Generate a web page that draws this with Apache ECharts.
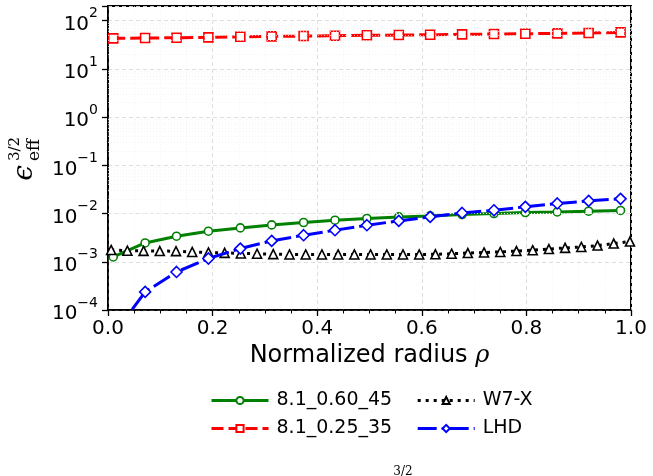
<!DOCTYPE html>
<html>
<head>
<meta charset="utf-8">
<script src="https://cdn.jsdelivr.net/npm/echarts@6/dist/echarts.min.js"></script>
<style>body{margin:0;background:#fff} #chart{width:653px;height:476px}</style>
</head>
<body>
<div id="chart"></div>
<script>
// radial positions of the markers
var rhoMain = [0.010, 0.071, 0.131, 0.192, 0.253, 0.313, 0.374, 0.434, 0.495, 0.556, 0.616, 0.677, 0.738, 0.798, 0.859, 0.919, 0.980];
var rhoW7X = [0.006, 0.037, 0.068, 0.099, 0.130, 0.161, 0.192, 0.223, 0.254, 0.285, 0.316, 0.347, 0.378, 0.409, 0.440, 0.471, 0.502,
              0.533, 0.564, 0.595, 0.626, 0.657, 0.688, 0.719, 0.750, 0.781, 0.812, 0.843, 0.874, 0.905, 0.936, 0.967, 0.998];

var eps_060_45 = [1.26e-3, 2.46e-3, 3.39e-3, 4.31e-3, 5.04e-3, 5.82e-3, 6.53e-3, 7.29e-3, 7.91e-3, 8.53e-3, 8.95e-3, 9.57e-3, 1.00e-2, 1.05e-2, 1.08e-2, 1.12e-2, 1.16e-2];
var eps_025_35 = [43.1, 43.8, 44.4, 45.2, 46.5, 47.4, 48.1, 48.8, 49.8, 50.5, 51.2, 52.2, 53.0, 53.7, 54.7, 55.6, 57.4];
var eps_lhd = [3.0e-5, 2.37e-4, 6.15e-4, 1.17e-3, 1.88e-3, 2.71e-3, 3.56e-3, 4.52e-3, 5.74e-3, 7.05e-3, 8.53e-3, 1.03e-2, 1.17e-2, 1.38e-2, 1.62e-2, 1.83e-2, 2.02e-2];
var eps_w7x = [1.76e-3, 1.70e-3, 1.68e-3, 1.67e-3, 1.66e-3, 1.60e-3, 1.56e-3, 1.53e-3, 1.49e-3, 1.47e-3, 1.44e-3, 1.42e-3, 1.42e-3, 1.42e-3, 1.42e-3, 1.42e-3, 1.42e-3,
               1.42e-3, 1.42e-3, 1.42e-3, 1.43e-3, 1.47e-3, 1.52e-3, 1.56e-3, 1.60e-3, 1.67e-3, 1.74e-3, 1.84e-3, 1.94e-3, 2.03e-3, 2.17e-3, 2.39e-3, 2.63e-3];

var xTicks = ['0.0', '0.2', '0.4', '0.6', '0.8', '1.0'];

var chart = echarts.init(document.getElementById('chart'));

function pairs(xs, ys) {
    var out = [];
    for (var i = 0; i < xs.length; i++) out.push([xs[i], ys[i]]);
    return out;
}

function line(name, xs, ys, color, symbol, size, dash, z) {
    return {
        name: name,
        type: 'line',
        data: pairs(xs, ys),
        symbol: symbol,
        symbolSize: size,
        showSymbol: true,
        clip: true,
        z: z,
        lineStyle: {color: color, width: 3, type: dash, cap: 'butt'},
        itemStyle: {color: '#fff', borderColor: color, borderWidth: 1.6},
        emphasis: {disabled: true}
    };
}

// light dotted lines at 2..9 inside each decade
var minorY = [];
for (var d = -4; d <= 2; d++) {
    for (var m = 2; m <= 9; m++) {
        var v = m * Math.pow(10, d);
        if (v < 200) minorY.push({yAxis: v});
    }
}

function sup(e) {
    return e < 0 ? '\u2212' + (-e) : '' + e;
}

var legendText = {fontFamily: 'DejaVu Sans', fontSize: 19, color: '#000', padding: [0, 0, 0, 3]};

var option = {
    animation: false,
    grid: {left: 108, right: 22, top: 6, bottom: 166, show: true, borderColor: '#000', borderWidth: 2, backgroundColor: 'transparent'},
    xAxis: {
        type: 'value', min: 0, max: 1, interval: 0.2,
        name: '{a|Normalized radius }{b|ρ}', nameLocation: 'middle', nameGap: 34,
        nameTextStyle: {rich: {
            a: {fontFamily: 'DejaVu Sans', fontSize: 24, color: '#000'},
            b: {fontFamily: 'DejaVu Serif', fontStyle: 'italic', fontSize: 24, color: '#000'}
        }},
        axisLine: {onZero: false, lineStyle: {color: '#000', width: 1.5}},
        axisTick: {inside: false, length: 6, lineStyle: {color: '#000', width: 1.3}},
        minorTick: {show: true, splitNumber: 4, length: 3.5, lineStyle: {color: '#000', width: 1}},
        axisLabel: {fontFamily: 'DejaVu Sans', fontSize: 20, color: '#000', margin: 9,
            formatter: function (v) { return xTicks[Math.round(v / 0.2)]; }},
        splitLine: {show: true, lineStyle: {color: '#dadada', type: [4, 3], width: 0.9}},
        minorSplitLine: {show: true, lineStyle: {color: '#efefef', type: [1, 2], width: 0.7}}
    },
    yAxis: {
        type: 'log', logBase: 10, min: 1e-4, max: 202,
        axisLine: {lineStyle: {color: '#000', width: 1.5}},
        axisTick: {inside: false, length: 6, lineStyle: {color: '#000', width: 1.3}},
        axisLabel: {
            margin: 10, color: '#000',
            formatter: function (v) {
                var l = Math.log10(v), e = Math.round(l);
                if (Math.abs(l - e) > 0.01) return '';
                return '{b|10}{s|' + sup(e) + '}';
            },
            rich: {
                b: {fontFamily: 'DejaVu Sans', fontSize: 20, color: '#000', verticalAlign: 'bottom', lineHeight: 28},
                s: {fontFamily: 'DejaVu Sans', fontSize: 14, color: '#000', verticalAlign: 'top', lineHeight: 28}
            }
        },
        splitLine: {show: true, lineStyle: {color: '#dadada', type: [4, 3], width: 0.9}}
    },
    legend: [{
        data: ['8.1_0.60_45', 'W7-X'],
        left: 205, top: 386, itemWidth: 57, itemHeight: 9, itemGap: 24,
        lineStyle: {width: 3},
        textStyle: legendText
    }, {
        data: ['8.1_0.25_35', 'LHD'],
        left: 205, top: 414, itemWidth: 57, itemHeight: 9, itemGap: 24,
        lineStyle: {width: 3},
        textStyle: legendText
    }],
    graphic: [
        {type: 'text', x: 25, y: 173, rotation: Math.PI / 2,
            style: {text: 'ϵ', font: 'italic 28px "DejaVu Serif"', fill: '#000', align: 'center', verticalAlign: 'middle'}},
        {type: 'text', x: 35, y: 150, rotation: Math.PI / 2,
            style: {text: 'eff', font: '17px "DejaVu Serif"', fill: '#000', align: 'center', verticalAlign: 'middle'}},
        {type: 'text', x: 15, y: 149, rotation: Math.PI / 2,
            style: {text: '3/2', font: '15px "DejaVu Serif"', fill: '#000', align: 'center', verticalAlign: 'middle'}},
        {type: 'text', x: 403, y: 466,
            style: {text: '3/2', font: '12px "DejaVu Serif"', fill: '#000', align: 'center', verticalAlign: 'top'}}
    ],
    series: [
        {
            type: 'line', data: [], silent: true, z: 0,
            markLine: {silent: true, symbol: 'none', label: {show: false},
                lineStyle: {color: '#efefef', type: [1, 2], width: 0.7}, data: minorY}
        },
        line('8.1_0.60_45', rhoMain, eps_060_45, '#008000', 'circle', 8, 'solid', 2),
        line('8.1_0.25_35', rhoMain, eps_025_35, '#ff0000', 'rect', 9, [12, 5], 3),
        line('W7-X', rhoW7X, eps_w7x, '#000000', 'triangle', 9, [3, 5], 4),
        line('LHD', rhoMain, eps_lhd, '#0000ff', 'diamond', 11, [19, 5, 3, 5], 5)
    ]
};

chart.setOption(option);
</script>
</body>
</html>
